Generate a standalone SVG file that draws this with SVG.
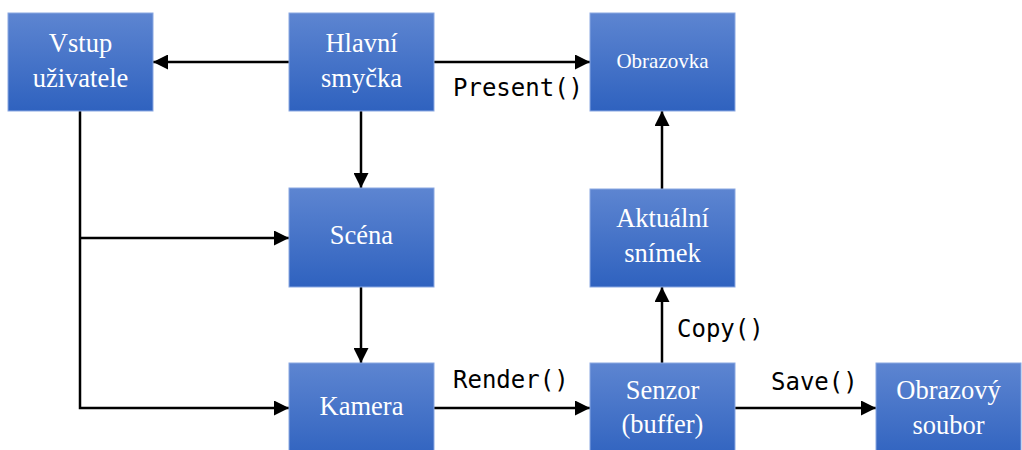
<svg xmlns="http://www.w3.org/2000/svg" width="1022" height="450" viewBox="0 0 1022 450">
<style>
.box{fill:url(#g);stroke:#8aa8e2;stroke-width:1}
.t{font-family:"Liberation Serif",serif;font-size:26.5px;fill:#fff;text-anchor:middle}
.s{font-size:21px}
.c{fill:none;stroke:#000;stroke-width:2.5}
.l{font-family:"DejaVu Sans Mono",monospace;font-size:24px;fill:#000}
</style>
<defs>
<linearGradient id="g" x1="0" y1="0" x2="0" y2="1">
<stop offset="0" stop-color="#5d85d1"/>
<stop offset="1" stop-color="#2f62bf"/>
</linearGradient>
<marker id="a" viewBox="0 0 10 10" refX="10" refY="5" markerWidth="6" markerHeight="6" markerUnits="strokeWidth" orient="auto">
<path d="M0,0 L10,5 L0,10 Z" fill="#000"/>
</marker>
</defs>
<g id="connectors">
<path class="c" d="M289,62 H153" marker-end="url(#a)"/>
<path class="c" d="M434,62 H590" marker-end="url(#a)"/>
<path class="c" d="M361,111 V188" marker-end="url(#a)"/>
<path class="c" d="M80,111 V408 H289" marker-end="url(#a)"/>
<path class="c" d="M80,238 H289" marker-end="url(#a)"/>
<path class="c" d="M361,287 V363" marker-end="url(#a)"/>
<path class="c" d="M434,408 H590" marker-end="url(#a)"/>
<path class="c" d="M662,363 V287" marker-end="url(#a)"/>
<path class="c" d="M662,189 V111" marker-end="url(#a)"/>
<path class="c" d="M735,408 H876" marker-end="url(#a)"/>
<text class="l" x="453" y="96">Present()</text>
<text class="l" x="453" y="388">Render()</text>
<text class="l" x="677" y="337">Copy()</text>
<text class="l" x="771" y="390">Save()</text>
</g>
<g id="vstup"><rect class="box" x="8" y="13" width="145" height="98"/><text class="t" x="80.5" y="52">Vstup</text><text class="t" x="80.5" y="87">uživatele</text></g>
<g id="hlavni"><rect class="box" x="289" y="13" width="145" height="98"/><text class="t" x="361.5" y="52">Hlavní</text><text class="t" x="361.5" y="87">smyčka</text></g>
<g id="obrazovka"><rect class="box" x="590" y="13" width="145" height="98"/><text class="t s" x="662.5" y="68">Obrazovka</text></g>
<g id="scena"><rect class="box" x="289" y="188" width="145" height="99"/><text class="t" x="361.5" y="244">Scéna</text></g>
<g id="aktualni"><rect class="box" x="590" y="189" width="145" height="98"/><text class="t" x="662.5" y="227">Aktuální</text><text class="t" x="662.5" y="262">snímek</text></g>
<g id="kamera"><rect class="box" x="289" y="363" width="145" height="98"/><text class="t" x="361.5" y="415">Kamera</text></g>
<g id="senzor"><rect class="box" x="590" y="363" width="145" height="98"/><text class="t" x="662.5" y="399">Senzor</text><text class="t" x="662.5" y="433">(buffer)</text></g>
<g id="obrazovy"><rect class="box" x="876" y="363" width="145" height="98"/><text class="t" x="948.5" y="399">Obrazový</text><text class="t" x="948.5" y="434">soubor</text></g>
</svg>
